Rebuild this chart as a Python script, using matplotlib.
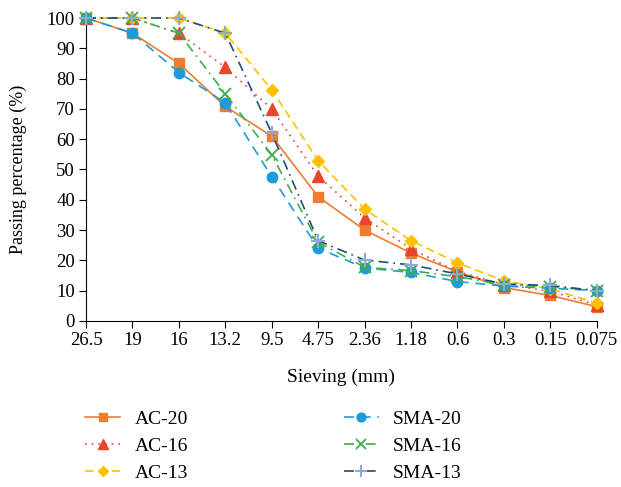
import numpy as np
import matplotlib.pyplot as plt

plt.rcParams['font.family'] = ['Liberation Serif', 'DejaVu Serif']
plt.rcParams['font.size'] = 13.5

# --- Data ---
sieves = ['26.5', '19', '16', '13.2', '9.5', '4.75', '2.36', '1.18', '0.6', '0.3', '0.15', '0.075']
ac20  = [100, 95, 85, 70.8, 61, 41, 30, 22.4, 16.2, 11, 8.4, 4.7]
ac16  = [100, 100, 95, 83.7, 70, 47.8, 34, 23.8, 16.3, 12, 9.8, 5.3]
ac13  = [100, 100, 100, 95, 76.3, 52.9, 36.9, 26.5, 19.2, 13.2, 10.6, 5.9]
sma20 = [100, 95, 82, 72, 47.6, 24, 17.5, 16, 13, 11.5, 10.8, 10]
sma16 = [100, 100, 95, 75, 54.8, 26, 17.7, 16.6, 14.6, 12, 11.3, 10]
sma13 = [100, 100, 100, 95, 62, 26.5, 20.1, 18.5, 15.5, 12.2, 11.7, 10]

x = np.arange(len(sieves))

series = [
    ('AC-20',  ac20,  dict(color='#ED7D31', ls='-',  marker='s', ms=7, mfc='#ED7D31', mec='#ED7D31')),
    ('AC-16',  ac16,  dict(color='#E8452C', ls=(0, (1, 3)), marker='^', ms=8, mfc='#E8452C', mec='#E8452C')),
    ('AC-13',  ac13,  dict(color='#FFC000', ls=(0, (5, 3)), marker='D', ms=6.5, mfc='#FFC000', mec='#FFC000')),
    ('SMA-20', sma20, dict(color='#1E9CD8', ls=(0, (6, 4)), marker='o', ms=7.5, mfc='#1E9CD8', mec='#1E9CD8')),
    ('SMA-16', sma16, dict(color='#3DAE49', ls=(0, (6, 3, 1, 3)), marker='x', ms=8, mfc='none', mec='#3DAE49', mew=1.3)),
    ('SMA-13', sma13, dict(color='#1F4E79', ls=(0, (6, 3, 1, 3)), marker='+', ms=10, mfc='none', mec='#8EAADB', mew=1.5)),
]

fig = plt.figure(figsize=(6.21, 4.87), dpi=100)
ax = fig.add_axes([0.1385, 0.341, 0.8225, 0.622])

for label, vals, style in series:
    ax.plot(x, vals, label=label, lw=1.2, clip_on=False, zorder=3, **style)

ax.set_xlim(0, len(sieves) - 1)
ax.set_ylim(0, 100)
ax.set_xticks(x)
ax.set_xticklabels(sieves)
ax.set_yticks(np.arange(0, 101, 10))
ax.spines['top'].set_visible(False)
ax.spines['right'].set_visible(False)
ax.tick_params(direction='out', length=5, color='black', labelsize=13.5, pad=3)
ax.set_xlabel('Sieving (mm)', fontsize=14, labelpad=14)
ax.set_ylabel('Passing percentage (%)', fontsize=13, labelpad=14)

handles, labels = ax.get_legend_handles_labels()
fig.legend(handles, labels,
           ncol=2, loc='upper left', bbox_to_anchor=(85 / 621, 1 - 410 / 487),
           frameon=False, borderpad=0, borderaxespad=0, markerscale=0.85,
           handlelength=1.8, handletextpad=0.75, columnspacing=8.0,
           labelspacing=0.5, fontsize=14)

plt.savefig('out.png', dpi=100)
